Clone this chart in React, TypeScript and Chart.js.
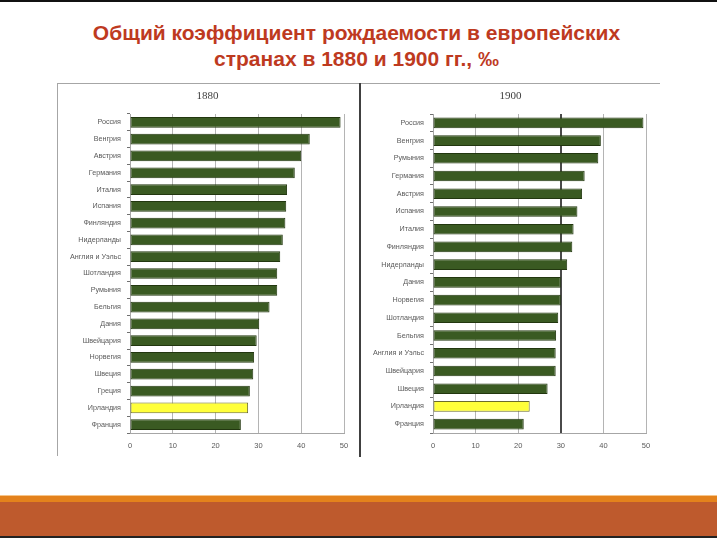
import React, { useEffect, useRef } from "react";
import { Chart, registerables } from "chart.js";

Chart.register(...registerables);

const countries1880 = [
  "Россия", "Венгрия", "Австрия", "Германия", "Италия", "Испания", "Финляндия",
  "Нидерланды", "Англия и Уэльс", "Шотландия", "Румыния", "Бельгия", "Дания",
  "Швейцария", "Норвегия", "Швеция", "Греция", "Ирландия", "Франция",
];
const values1880 = [
  49.2, 42.0, 40.0, 38.5, 36.7, 36.5, 36.3, 35.7, 35.1, 34.4, 34.4, 32.6, 30.2,
  29.6, 29.0, 28.8, 28.0, 27.6, 25.9,
];

const countries1900 = [
  "Россия", "Венгрия", "Румыния", "Германия", "Австрия", "Испания", "Италия",
  "Финляндия", "Нидерланды", "Дания", "Норвегия", "Шотландия", "Бельгия",
  "Англия и Уэльс", "Швейцария", "Швеция", "Ирландия", "Франция",
];
const values1900 = [
  49.4, 39.4, 38.8, 35.6, 35.0, 33.9, 33.0, 32.7, 31.5, 30.0, 30.0, 29.4, 28.9,
  28.8, 28.8, 26.9, 22.7, 21.3,
];

const highlighted = "Ирландия";
const xTicks = [0, 10, 20, 30, 40, 50];

const GREEN = "#3a5a22";
const GREEN_BORDER = "#22370f";
const YELLOW = "#ffff3a";
const YELLOW_BORDER = "#6b6b2a";

type PanelProps = {
  title: string;
  labels: string[];
  values: number[];
  yWidth: number;
  padRight: number;
  barPct: number;
  darkLineAt?: number;
  titleDx: number;
};

function Panel({ title, labels, values, yWidth, padRight, barPct, darkLineAt, titleDx }: PanelProps) {
  const ref = useRef<HTMLCanvasElement | null>(null);
  useEffect(() => {
    if (!ref.current) return;
    const titlePlugin = {
      id: "panelTitle",
      afterDraw(chart: any) {
        const ctx = chart.ctx;
        ctx.save();
        ctx.font = '11px "Liberation Serif"';
        ctx.fillStyle = "#404040";
        ctx.textAlign = "center";
        ctx.textBaseline = "middle";
        ctx.fillText(title, chart.width / 2 + titleDx, 12);
        ctx.restore();
      },
    };
    const chart = new Chart(ref.current, {
      type: "bar",
      data: {
        labels,
        datasets: [
          {
            data: values,
            backgroundColor: labels.map((l) => (l === highlighted ? YELLOW : GREEN)),
            borderColor: labels.map((l) => (l === highlighted ? YELLOW_BORDER : GREEN_BORDER)),
            borderWidth: 1,
            borderSkipped: false,
            barPercentage: barPct,
            categoryPercentage: 1,
          },
        ],
      },
      options: {
        indexAxis: "y",
        animation: false,
        responsive: true,
        maintainAspectRatio: false,
        layout: { padding: { top: 30, right: padRight, left: 0, bottom: 0 } },
        plugins: {
          legend: { display: false },
          title: { display: false },
          tooltip: { enabled: false },
        },
        scales: {
          x: {
            type: "linear",
            min: xTicks[0],
            max: xTicks[xTicks.length - 1],
            afterBuildTicks: (scale: any) => {
              scale.ticks = xTicks.map((v) => ({ value: v }));
            },
            afterFit: (scale: any) => {
              scale.height = 23;
            },
            ticks: {
              color: "#595959",
              font: { family: "Liberation Sans", size: 7.5 },
              padding: 8,
            },
            grid: {
              drawTicks: false,
              color: (c: any) =>
                darkLineAt !== undefined && c.tick && c.tick.value === darkLineAt ? "#4a4a4a" : "#b4b4b4",
              lineWidth: (c: any) =>
                darkLineAt !== undefined && c.tick && c.tick.value === darkLineAt ? 2 : 1,
            },
            border: { display: true, color: "#a6a6a6", width: 1 },
          },
          y: {
            afterFit: (scale: any) => {
              scale.width = yWidth;
            },
            ticks: {
              color: "#5a5a5a",
              font: { family: "Liberation Sans", size: 7.2 },
              padding: 6,
              autoSkip: false,
            },
            grid: {
              drawOnChartArea: false,
              drawTicks: true,
              tickLength: 3,
              offset: true,
              color: "#707070",
            },
            border: { display: true, color: "#a6a6a6", width: 1 },
          },
        },
      },
      plugins: [titlePlugin],
    });
    return () => chart.destroy();
  }, []);
  return <canvas ref={ref} />;
}

export default function App() {
  return (
    <div style={{ position: "absolute", left: 0, top: 0, width: 717, height: 538, background: "#ffffff", overflow: "hidden" }}>
      <div style={{ position: "absolute", left: 0, top: 0, width: 717, height: 2, background: "#111" }} />
      <div
        style={{
          position: "absolute",
          left: 0,
          top: 20,
          width: 713,
          textAlign: "center",
          fontFamily: '"Liberation Sans", Arial, sans-serif',
          fontWeight: "bold",
          fontSize: 21,
          lineHeight: "26px",
          color: "#be3a1f",
          whiteSpace: "nowrap",
        }}
      >
        Общий коэффициент рождаемости в европейских
        <br />
        странах в 1880 и 1900 гг., ‰
      </div>

      {/* panel frame */}
      <div style={{ position: "absolute", left: 57, top: 83, width: 603, height: 1, background: "#a6a6a6" }} />
      <div style={{ position: "absolute", left: 57, top: 83, width: 1, height: 373, background: "#a6a6a6" }} />
      <div style={{ position: "absolute", left: 359, top: 83, width: 2, height: 374, background: "#404040" }} />

      <div style={{ position: "absolute", left: 58, top: 84, width: 301, height: 372 }}>
        <Panel
          title="1880"
          labels={countries1880}
          values={values1880}
          yWidth={72}
          padRight={15}
          barPct={0.64}
          titleDx={-1}
        />
      </div>
      <div style={{ position: "absolute", left: 361, top: 84, width: 299, height: 372 }}>
        <Panel
          title="1900"
          labels={countries1900}
          values={values1900}
          yWidth={72}
          padRight={14}
          barPct={0.6}
          darkLineAt={30}
          titleDx={0}
        />
      </div>

      {/* bottom band */}
      <div style={{ position: "absolute", left: 0, top: 495, width: 717, height: 1, background: "#f6c58a" }} />
      <div style={{ position: "absolute", left: 0, top: 496, width: 717, height: 6, background: "#e4821c" }} />
      <div style={{ position: "absolute", left: 0, top: 502, width: 717, height: 34, background: "#be5a2d" }} />
      <div style={{ position: "absolute", left: 0, top: 536, width: 717, height: 2, background: "#222" }} />
    </div>
  );
}
